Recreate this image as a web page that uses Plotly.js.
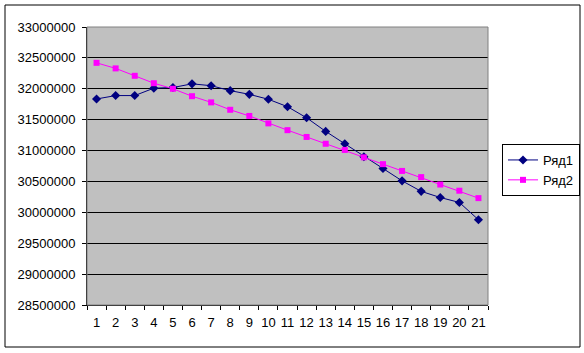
<!DOCTYPE html>
<html>
<head>
<meta charset="utf-8">
<script src="https://cdn.plot.ly/plotly-3.0.1.min.js"></script>
<style>
html,body{margin:0;padding:0;background:#fff;}
#chart{width:584px;height:353px;}
</style>
</head>
<body>
<div id="chart"></div>
<script>
const categories = ['1','2','3','4','5','6','7','8','9','10','11','12','13','14','15','16','17','18','19','20','21'];
const series1Name = 'Ряд1';
const series2Name = 'Ряд2';
const series1 = [31835000, 31890000, 31890000, 32010000, 32020000, 32080000, 32050000, 31970000, 31910000, 31830000, 31710000, 31530000, 31310000, 31110000, 30900000, 30710000, 30510000, 30340000, 30240000, 30160000, 29880000];
const series2 = [32420000, 32330000, 32210000, 32090000, 32000000, 31880000, 31780000, 31660000, 31560000, 31440000, 31330000, 31220000, 31110000, 31010000, 30890000, 30780000, 30670000, 30570000, 30450000, 30350000, 30230000];
const yTicks = [28500000, 29000000, 29500000, 30000000, 30500000, 31000000, 31500000, 32000000, 32500000, 33000000];

const L = 87, R = 488, T = 27, B = 305, W = 584, H = 353;
const pw = R - L, ph = B - T;
const px = v => (v - L) / pw;
const py = v => (B - v) / ph;

const traces = [
  {x: categories, y: series1, name: series1Name, type: 'scatter', mode: 'lines+markers',
   line: {color: '#000080', width: 1}, marker: {symbol: 'diamond', size: 7, color: '#000080'}},
  {x: categories, y: series2, name: series2Name, type: 'scatter', mode: 'lines+markers',
   line: {color: '#FF00FF', width: 1}, marker: {symbol: 'square', size: 6, color: '#FF00FF'}}
];

const layout = {
  width: W, height: H,
  margin: {l: L, r: W - R, t: T, b: H - B, pad: 0, autoexpand: false},
  paper_bgcolor: '#ffffff',
  plot_bgcolor: '#C0C0C0',
  font: {family: 'Liberation Sans, Arial, sans-serif', size: 13, color: '#000'},
  showlegend: true,
  legend: {x: px(502), y: py(144), xanchor: 'left', yanchor: 'top',
    bgcolor: '#ffffff', bordercolor: '#000', borderwidth: 1,
    font: {size: 13}, itemwidth: 30, tracegroupgap: 0},
  xaxis: {type: 'category', tickvals: categories, ticktext: categories,
    ticks: 'outside', tickson: 'boundaries', ticklen: 4, tickcolor: '#000', tickangle: 0,
    ticklabelstandoff: 5,
    showline: true, linecolor: '#000', linewidth: 1, showgrid: false, zeroline: false,
    range: [-0.5, 20.5], fixedrange: true, automargin: false},
  yaxis: {range: [28500000, 33000000], tickvals: yTicks, ticktext: yTicks.map(String),
    ticks: 'outside', ticklen: 4, tickcolor: '#000', ticklabelstandoff: 4,
    showline: true, linecolor: '#000', linewidth: 1, automargin: false,
    showgrid: true, gridcolor: '#000', gridwidth: 1, zeroline: false, fixedrange: true},
  shapes: [
    {type: 'rect', xref: 'paper', yref: 'paper', x0: 0, x1: 1, y0: 0, y1: 1,
     line: {color: '#808080', width: 1}, fillcolor: 'rgba(0,0,0,0)', layer: 'above'},
    {type: 'rect', xref: 'paper', yref: 'paper', x0: px(5), x1: px(580), y0: py(347), y1: py(5),
     line: {color: '#000', width: 1}, fillcolor: 'rgba(0,0,0,0)', layer: 'below'}
  ]
};

Plotly.newPlot('chart', traces, layout, {displayModeBar: false, staticPlot: true});
</script>
</body>
</html>
